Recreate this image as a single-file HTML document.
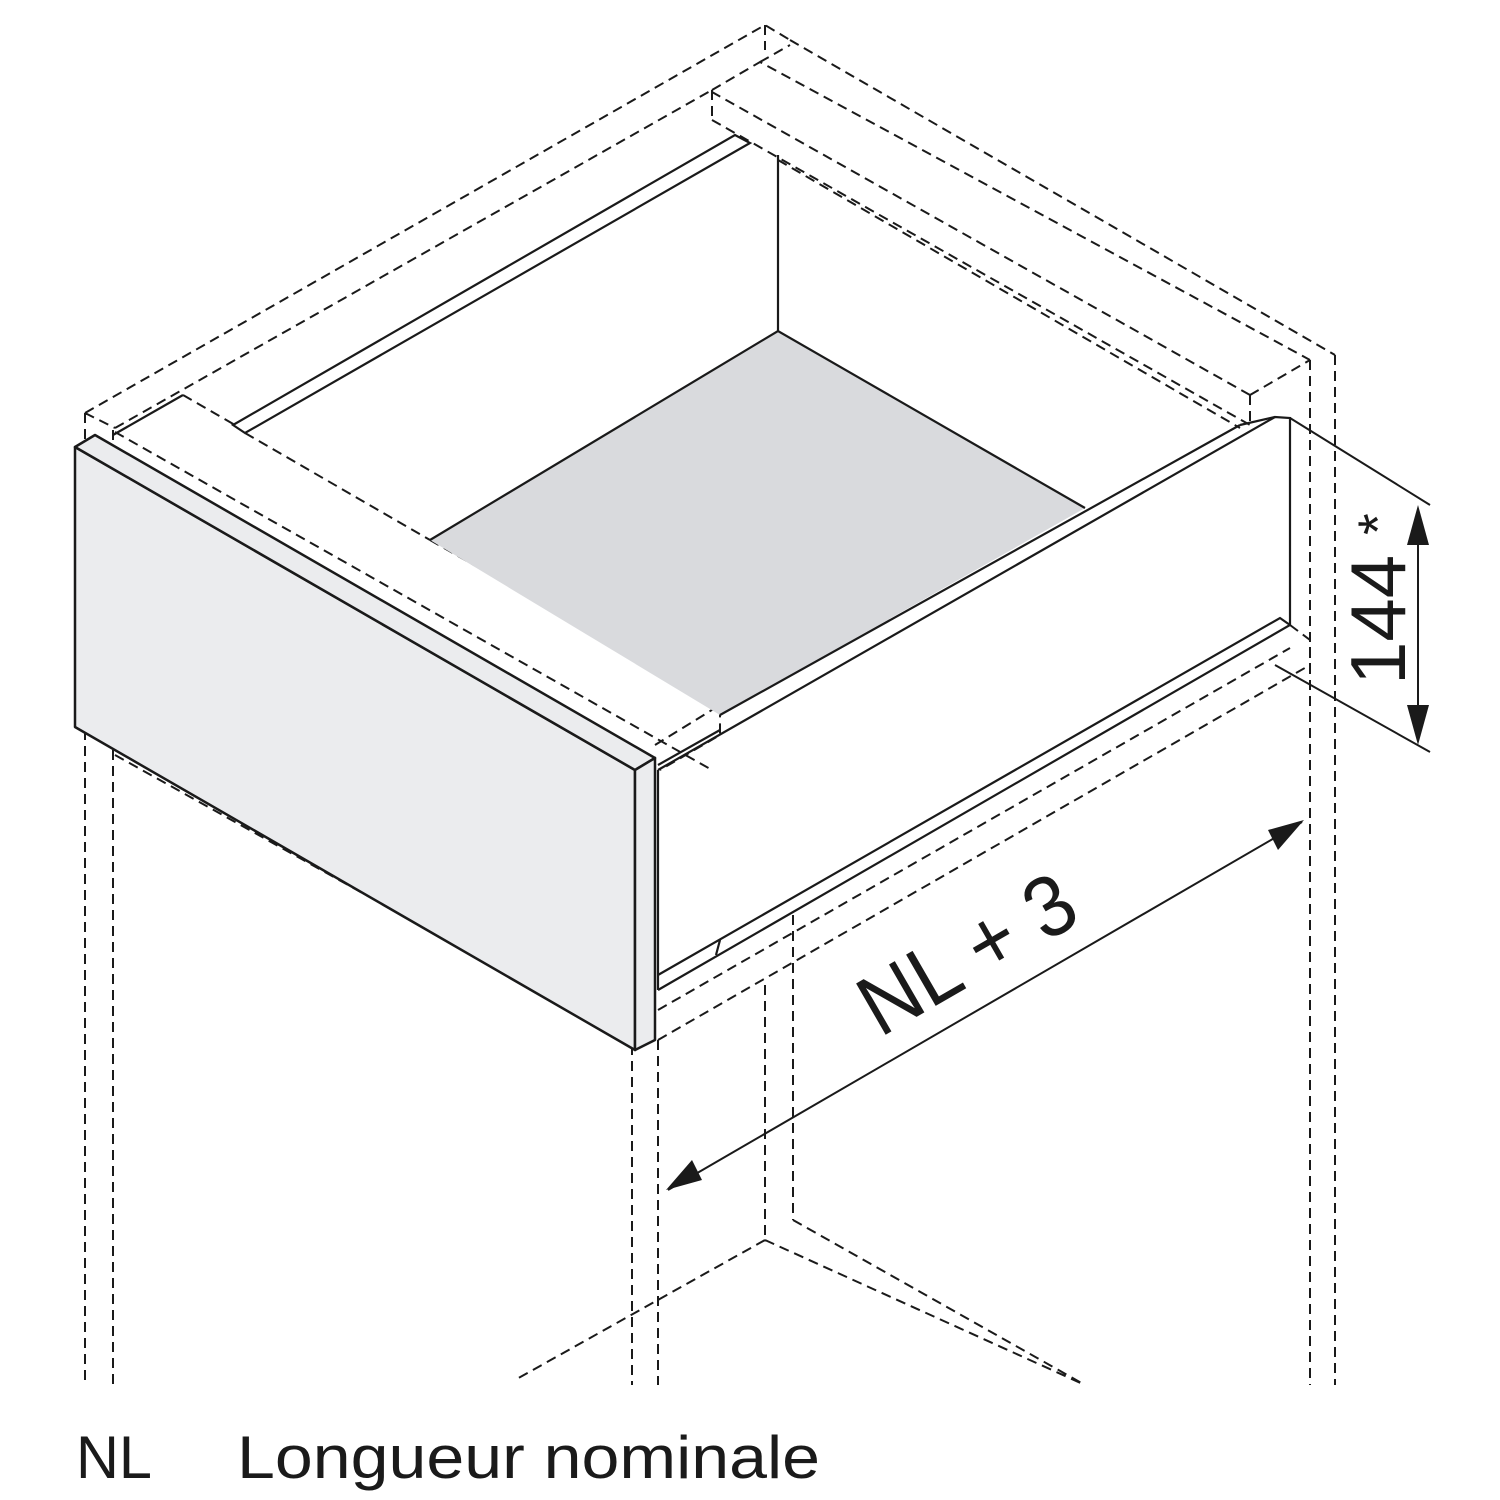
<!DOCTYPE html>
<html><head><meta charset="utf-8"><style>
html,body{margin:0;padding:0;background:#fff;}
svg{display:block;}
</style></head><body>
<svg width="1500" height="1500" viewBox="0 0 1500 1500" xmlns="http://www.w3.org/2000/svg">
<g fill="none" stroke="#1a1a1a" stroke-width="2" stroke-dasharray="10,6">
  <path d="M85,413 L765,25 L790,40 M115,428 L712,90 M712,90 L712,120 M712,120 L1250,425 M712,90 L760,62 L1310,360 M790,40 L1335,355 M765,25 L765,50"/>
  <path d="M760,62 L790,45"/>
  <path d="M1250,395 L1310,360 M1250,395 L1250,425 M1250,395 L712,92"/>
  <path d="M1310,360 L1310,1385 M1335,355 L1335,1385"/>
  <path d="M778,160 L1240,428"/>
  <path d="M85,413 L85,440 M85,730 L85,1385 M113,430 L113,445 M113,750 L113,1385 M85,413 L115,428"/>
  <path d="M115,755 L635,1045"/>
  <path d="M115,432 L712,770 M183,395 L235,425 M245,433 L430,540"/>
  <path d="M430,540 L720,705 L720,735 L660,770 M655,745 L720,705"/>
  <path d="M632,1045 L632,1385 M658,1040 L658,1385 M765,985 L765,1240 M793,915 L793,1220"/>
  <path d="M765,1240 L515,1380 M765,1240 L1085,1385 M793,1220 L1085,1385"/>
  <path d="M658,1040 L1310,665 M658,1010 L1290,648 M1290,625 L1310,640 L1310,665"/>
</g>
<polygon points="430,540 778,331 1085,508 720,715" fill="#d9dadd" stroke="none"/>
<g fill="none" stroke="#1a1a1a" stroke-width="2.2">
  <path d="M430,540 L778,331 L1085,508 M778,331 L778,155"/>
  <path d="M233,425 L735,135 L750,143 L245,433 Z"/>
  <path d="M183,395 L113,435"/>
  <path d="M720,715 L1240,425 M658,770 L1275,417 L1290,418 L1290,625 L658,990"/>
  <path d="M1240,425 L1275,417 M658,765 L720,730"/>
  <path d="M658,975 L1280,618 L1290,625 M658,990 L658,770"/>
  <path d="M720,940 L716,955"/>
</g>
<polygon points="75,447 635,770 635,1050 75,727" fill="#ebecee" stroke="#1a1a1a" stroke-width="2.5" stroke-linejoin="round"/>
<polygon points="75,447 95,435 655,758 635,770" fill="#ebecee" stroke="#1a1a1a" stroke-width="2.5" stroke-linejoin="round"/>
<polygon points="635,770 655,758 655,1040 635,1050" fill="#ebecee" stroke="#1a1a1a" stroke-width="2.5" stroke-linejoin="round"/>
<g stroke="#1a1a1a" stroke-width="2" fill="none">
  <path d="M1290,418 L1430,505 M1275,665 L1430,752 M1418,535 L1418,718 M668,1190 L1302,822"/>
</g>
<polygon points="1418,505 1407,545 1429,545" fill="#1a1a1a"/>
<polygon points="1418,745 1407,705 1429,705" fill="#1a1a1a"/>
<polygon points="666,1190 692,1160 702,1180" fill="#1a1a1a"/>
<polygon points="1304,820 1278,850 1268,830" fill="#1a1a1a"/>
<text x="0" y="0" transform="translate(1405,685) rotate(-90)" font-family="Liberation Sans, sans-serif" font-size="78" fill="#1a1a1a">144</text>
<text x="0" y="0" transform="translate(1397,535) rotate(-90)" font-family="Liberation Sans, sans-serif" font-size="56" fill="#1a1a1a">*</text>
<text x="0" y="0" transform="translate(880,1038) rotate(-30)" font-family="Liberation Sans, sans-serif" font-size="86" fill="#1a1a1a" textLength="235" lengthAdjust="spacingAndGlyphs">NL + 3</text>
<text x="76" y="1478" font-family="Liberation Sans, sans-serif" font-size="60" fill="#1a1a1a" textLength="76" lengthAdjust="spacingAndGlyphs">NL</text>
<text x="237" y="1478" font-family="Liberation Sans, sans-serif" font-size="60" fill="#1a1a1a" textLength="583" lengthAdjust="spacingAndGlyphs">Longueur nominale</text>
</svg>
</body></html>
